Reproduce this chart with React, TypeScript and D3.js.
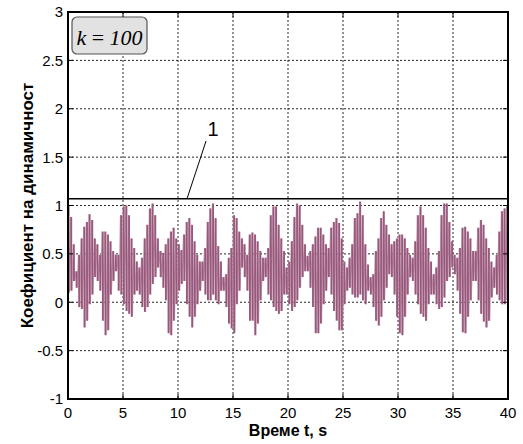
import React, { useEffect, useRef } from "react";
import * as d3 from "d3";

// peaks of the fast oscillation left to right (0..40 s)
const peakHigh = [
  1.0, 0.88, 0.6, 0.32, 0.49, 0.66, 0.78, 0.83, 0.91, 0.85, 0.66, 0.6, 0.49, 0.73, 0.73, 0.7, 0.63, 0.53, 0.49, 0.49, 0.9, 0.99, 1.0, 0.9, 0.66, 0.56, 0.42,
  0.36, 0.46, 0.66, 0.8, 0.97, 1.02, 0.9, 0.66, 0.53, 0.51, 0.6, 0.66, 0.73, 0.77, 0.66, 0.6, 0.54, 0.7, 0.83, 0.87, 0.8, 0.63, 0.49, 0.42, 0.42, 0.56, 0.83, 0.97,
  1.02, 0.87, 0.58, 0.42, 0.26, 0.29, 0.46, 0.56, 0.9, 0.87, 0.73, 0.66, 0.6, 0.49, 0.7, 0.72, 0.7, 0.63, 0.53, 0.46, 0.46, 0.56, 0.9, 0.99, 0.99, 0.8, 0.66, 0.53,
  0.36, 0.42, 0.63, 0.88, 1.02, 1.0, 0.8, 0.6, 0.48, 0.53, 0.6, 0.68, 0.77, 0.77, 0.7, 0.6, 0.56, 0.77, 0.83, 0.87, 0.82, 0.66, 0.42, 0.36, 0.46, 0.6, 0.87, 0.92,
  1.04, 0.9, 0.6, 0.39, 0.26, 0.29, 0.53, 0.66, 0.87, 0.94, 0.8, 0.7, 0.6, 0.63, 0.66, 0.7, 0.7, 0.66, 0.56, 0.49, 0.46, 0.63, 0.9, 0.99, 0.9, 0.77, 0.56, 0.42,
  0.29, 0.36, 0.53, 0.9, 1.02, 1.02, 0.83, 0.63, 0.49, 0.46, 0.56, 0.77, 0.78, 0.73, 0.66, 0.53, 0.53, 0.77, 0.85, 0.8, 0.66, 0.56, 0.42, 0.36, 0.49, 0.73, 0.94, 0.97, 0.99,
];
const peakLow = [
  0.1, 0.12, 0.22, 0.15, -0.05, -0.07, -0.26, -0.19, -0.02, 0.08, 0.26, 0.22, 0.12, -0.19, -0.34, -0.29, 0.08, 0.22, 0.32, 0.12, 0.08, -0.02, -0.09, -0.12, -0.15, 0.08, 0.12,
  0.08, -0.05, -0.1, -0.05, 0.08, 0.19, 0.26, 0.36, 0.26, 0.15, 0.02, -0.32, -0.34, -0.19, -0.02, 0.12, 0.19, 0.22, -0.02, -0.15, -0.26, -0.15, -0.02, 0.12, 0.22, 0.08, 0.02, 0.02,
  0.08, 0.02, -0.02, 0.12, 0.12, -0.05, -0.22, -0.27, -0.32, -0.02, 0.12, 0.36, 0.26, 0.12, -0.19, -0.19, -0.34, -0.22, 0.02, 0.22, 0.26, 0.08, 0.02, -0.05, -0.09, -0.12, -0.09, 0.08,
  0.08, -0.02, -0.09, -0.05, 0.02, 0.15, 0.26, 0.32, 0.32, 0.15, -0.05, -0.32, -0.32, -0.22, -0.02, 0.12, 0.26, 0.08, -0.09, -0.19, -0.29, -0.29, -0.02, 0.12, 0.15, 0.08, 0.05, 0.05,
  0.08, 0.02, -0.02, 0.12, 0.08, -0.05, -0.19, -0.24, -0.15, 0.02, 0.15, 0.29, 0.26, 0.08, -0.15, -0.32, -0.34, -0.15, 0.08, 0.26, 0.22, 0.08, -0.02, -0.12, -0.15, -0.19, -0.02, 0.08,
  0.08, -0.02, -0.07, -0.05, 0.05, 0.22, 0.26, 0.36, 0.29, 0.12, -0.12, -0.31, -0.32, -0.15, 0.02, 0.22, 0.22, 0.02, -0.12, -0.2, -0.26, -0.19, 0.05, 0.15, 0.08, 0.02, -0.02, -0.02, 0.02,
];
const limitLevel = 1.07; // line "1"
const xTicks = [0, 5, 10, 15, 20, 25, 30, 35, 40];
const yTicks = [-1, -0.5, 0, 0.5, 1, 1.5, 2, 2.5, 3];
const annotation = { label: "1", from: [12.55, 1.667], to: [10.82, limitLevel], text: [13.18, 1.72] };

const width = 523, height = 444;

const App = () => {
  const ref = useRef<SVGSVGElement>(null);

  useEffect(() => {
    const svg = d3.select(ref.current);
    svg.selectAll("*").remove();

    const x = d3.scaleLinear().domain([0, 40]).range([68, 508]);
    const y = d3.scaleLinear().domain([-1, 3]).range([399, 12]);
    const sans = "Liberation Sans, Arial, sans-serif";

    svg.append("defs").append("clipPath").attr("id", "plot")
      .append("rect").attr("x", x(0)).attr("y", y(3)).attr("width", x(40) - x(0)).attr("height", y(-1) - y(3));

    // grid
    const grid = svg.append("g").attr("stroke", "#000").attr("stroke-width", 1).attr("stroke-dasharray", "2,2").attr("opacity", 0.85);
    grid.selectAll(".gx").data(xTicks.slice(1, -1)).enter().append("line")
      .attr("x1", d => x(d)).attr("x2", d => x(d)).attr("y1", y(3)).attr("y2", y(-1));
    grid.selectAll(".gy").data(yTicks.slice(1, -1)).enter().append("line")
      .attr("y1", d => y(d)).attr("y2", d => y(d)).attr("x1", x(0)).attr("x2", x(40));

    // signal: zigzag through the peaks, each swing drawn as a darker stroke
    const n = peakHigh.length;
    const step = 40 / (2 * n - 1);
    const pts: [number, number][] = [];
    peakHigh.forEach((h, i) => {
      pts.push([2 * i * step, h]);
      pts.push([(2 * i + 1) * step, peakLow[i]]);
    });
    const sig = svg.append("g").attr("clip-path", "url(#plot)");
    const line = d3.line<[number, number]>().x(d => x(d[0])).y(d => y(d[1]));
    sig.append("path").attr("d", line(pts))
      .attr("fill", "none").attr("stroke", "#c49ab0").attr("stroke-width", 1.3);
    sig.selectAll(".swing").data(peakHigh).enter().append("line")
      .attr("x1", (d, i) => x((2 * i + 0.5) * step)).attr("x2", (d, i) => x((2 * i + 0.5) * step))
      .attr("y1", d => y(d)).attr("y2", (d, i) => y(peakLow[i]))
      .attr("stroke", "#98587b").attr("stroke-width", 1.8);

    // limit line
    svg.append("line").attr("x1", x(0)).attr("x2", x(40)).attr("y1", y(limitLevel)).attr("y2", y(limitLevel))
      .attr("stroke", "#000").attr("stroke-width", 1.5);

    // ticks on all four sides
    const tk = svg.append("g").attr("stroke", "#000").attr("stroke-width", 1);
    xTicks.forEach(t => {
      tk.append("line").attr("x1", x(t)).attr("x2", x(t)).attr("y1", y(-1)).attr("y2", y(-1) - 5);
      tk.append("line").attr("x1", x(t)).attr("x2", x(t)).attr("y1", y(3)).attr("y2", y(3) + 5);
    });
    yTicks.forEach(t => {
      tk.append("line").attr("y1", y(t)).attr("y2", y(t)).attr("x1", x(0)).attr("x2", x(0) + 5);
      tk.append("line").attr("y1", y(t)).attr("y2", y(t)).attr("x1", x(40)).attr("x2", x(40) - 5);
    });

    // frame
    svg.append("rect").attr("x", x(0)).attr("y", y(3)).attr("width", x(40) - x(0)).attr("height", y(-1) - y(3))
      .attr("fill", "none").attr("stroke", "#000").attr("stroke-width", 2);

    // tick labels
    svg.append("g").selectAll("text").data(xTicks).enter().append("text")
      .attr("x", d => x(d)).attr("y", 418).attr("text-anchor", "middle")
      .attr("font-family", sans).attr("font-size", 15).text(d => d);
    svg.append("g").selectAll("text").data(yTicks).enter().append("text")
      .attr("x", 63).attr("y", d => y(d)).attr("dy", "0.36em").attr("text-anchor", "end")
      .attr("font-family", sans).attr("font-size", 15).text(d => d);

    // axis titles
    svg.append("text").attr("x", (x(0) + x(40)) / 2).attr("y", 436).attr("text-anchor", "middle")
      .attr("font-family", sans).attr("font-size", 16).attr("font-weight", "bold").text("Време t, s");
    svg.append("text").attr("transform", `translate(33,${(y(3) + y(-1)) / 2}) rotate(-90)`).attr("text-anchor", "middle")
      .attr("font-family", sans).attr("font-size", 17).attr("font-weight", "bold").text("Коефициент на динамичност");

    // annotation 1
    svg.append("line")
      .attr("x1", x(annotation.from[0])).attr("y1", y(annotation.from[1]))
      .attr("x2", x(annotation.to[0])).attr("y2", y(annotation.to[1]))
      .attr("stroke", "#000").attr("stroke-width", 1);
    svg.append("text").attr("x", x(annotation.text[0])).attr("y", y(annotation.text[1])).attr("text-anchor", "middle")
      .attr("font-family", sans).attr("font-size", 20).text(annotation.label);

    // k = 100 box
    svg.append("rect").attr("x", 72).attr("y", 17).attr("width", 75).attr("height", 37).attr("rx", 5)
      .attr("fill", "#e2e2e2").attr("stroke", "#555").attr("stroke-width", 1.2);
    const kt = svg.append("text").attr("x", 109.5).attr("y", 45).attr("text-anchor", "middle")
      .attr("font-family", "Liberation Serif, Times New Roman, serif").attr("font-size", 22);
    kt.append("tspan").attr("font-style", "italic").text("k");
    kt.append("tspan").text(" = ");
    kt.append("tspan").attr("font-style", "italic").text("100");
  }, []);

  return <svg ref={ref} width={width} height={height} style={{ position: "absolute", left: 0, top: 0 }} />;
};

export default App;
